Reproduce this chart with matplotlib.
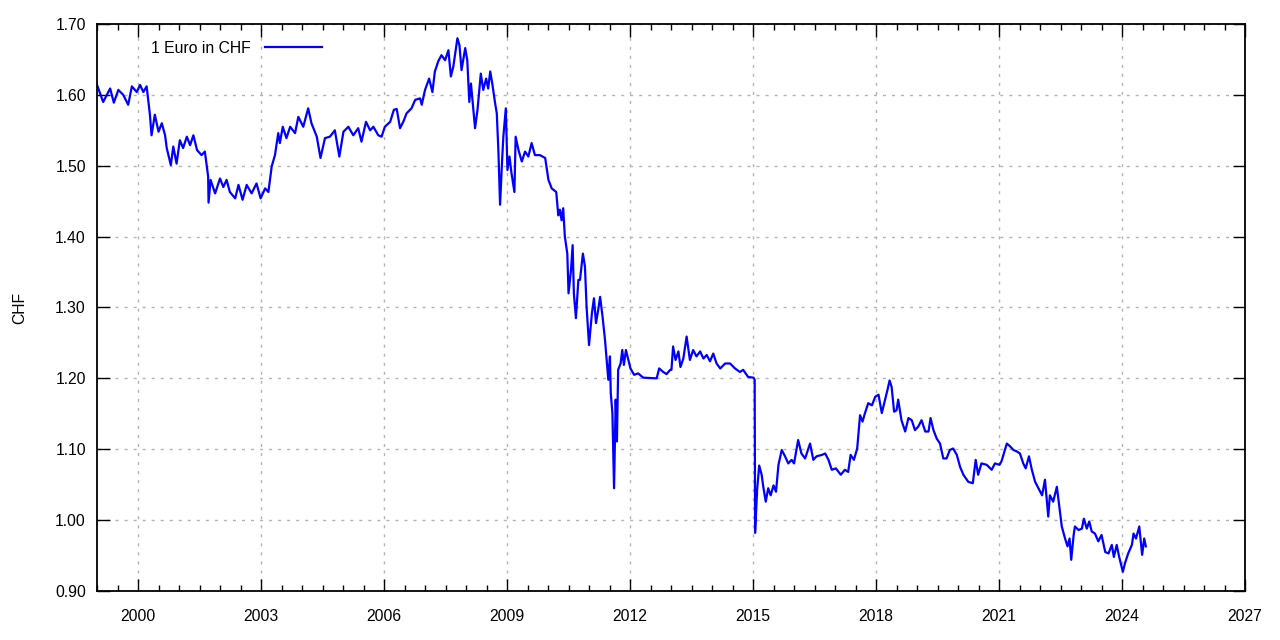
import matplotlib
matplotlib.use('Agg')
import matplotlib.pyplot as plt
from matplotlib.ticker import MultipleLocator, FormatStrFormatter

plt.rcParams['font.family'] = ['Liberation Sans', 'DejaVu Sans']

# EUR/CHF readings (decimal year, CHF per Euro)
years = [
    1999.00, 1999.15, 1999.32, 1999.41, 1999.52, 1999.64, 1999.76, 1999.85, 1999.97,
    2000.05, 2000.13, 2000.21, 2000.29, 2000.33, 2000.41, 2000.50, 2000.58, 2000.66,
    2000.70, 2000.80, 2000.86, 2000.94, 2001.02, 2001.10, 2001.19, 2001.27, 2001.35,
    2001.44, 2001.55, 2001.63, 2001.67, 2001.71, 2001.72, 2001.77, 2001.88, 2002.00,
    2002.08, 2002.16, 2002.24, 2002.37, 2002.45, 2002.55, 2002.65, 2002.77, 2002.89,
    2002.99, 2003.10, 2003.18, 2003.26, 2003.34, 2003.42, 2003.46, 2003.53, 2003.62,
    2003.71, 2003.83, 2003.91, 2004.03, 2004.15, 2004.23, 2004.36, 2004.45, 2004.56,
    2004.68, 2004.80, 2004.91, 2005.01, 2005.13, 2005.25, 2005.37, 2005.45, 2005.56,
    2005.66, 2005.74, 2005.86, 2005.94, 2006.02, 2006.15, 2006.24, 2006.31, 2006.39,
    2006.47, 2006.55, 2006.67, 2006.76, 2006.88, 2006.92, 2007.00, 2007.10, 2007.18,
    2007.24, 2007.32, 2007.40, 2007.49, 2007.57, 2007.63, 2007.69, 2007.79, 2007.84,
    2007.89, 2007.98, 2008.03, 2008.08, 2008.12, 2008.22, 2008.28, 2008.36, 2008.42,
    2008.49, 2008.54, 2008.59, 2008.64, 2008.71, 2008.75, 2008.79, 2008.83, 2008.88,
    2008.91, 2008.97, 2009.01, 2009.06, 2009.11, 2009.18, 2009.21, 2009.28, 2009.36,
    2009.44, 2009.52, 2009.60, 2009.68, 2009.80, 2009.93, 2010.01, 2010.09, 2010.20,
    2010.25, 2010.29, 2010.33, 2010.37, 2010.41, 2010.47, 2010.50, 2010.56, 2010.60,
    2010.63, 2010.68, 2010.74, 2010.78, 2010.85, 2010.90, 2010.94, 2011.00, 2011.07,
    2011.12, 2011.17, 2011.23, 2011.27, 2011.33, 2011.39, 2011.43, 2011.47, 2011.51,
    2011.53, 2011.57, 2011.61, 2011.65, 2011.68, 2011.71, 2011.77, 2011.81, 2011.85,
    2011.90, 2011.96, 2012.01, 2012.10, 2012.20, 2012.32, 2012.65, 2012.71, 2012.81,
    2012.89, 2012.98, 2013.01, 2013.05, 2013.11, 2013.18, 2013.23, 2013.30, 2013.38,
    2013.46, 2013.54, 2013.62, 2013.71, 2013.79, 2013.87, 2013.95, 2014.03, 2014.11,
    2014.20, 2014.32, 2014.44, 2014.56, 2014.68, 2014.76, 2014.88, 2015.01, 2015.04,
    2015.05, 2015.10, 2015.15, 2015.21, 2015.25, 2015.31, 2015.37, 2015.43, 2015.50,
    2015.56, 2015.62, 2015.70, 2015.78, 2015.86, 2015.94, 2016.00, 2016.10, 2016.18,
    2016.27, 2016.39, 2016.47, 2016.55, 2016.68, 2016.76, 2016.84, 2016.92, 2017.02,
    2017.14, 2017.24, 2017.32, 2017.38, 2017.46, 2017.54, 2017.61, 2017.67, 2017.73,
    2017.81, 2017.90, 2017.98, 2018.06, 2018.14, 2018.22, 2018.28, 2018.33, 2018.38,
    2018.44, 2018.50, 2018.54, 2018.62, 2018.71, 2018.79, 2018.87, 2018.95, 2019.03,
    2019.11, 2019.20, 2019.28, 2019.33, 2019.40, 2019.48, 2019.56, 2019.64, 2019.72,
    2019.80, 2019.88, 2019.97, 2020.05, 2020.13, 2020.25, 2020.36, 2020.43, 2020.49,
    2020.57, 2020.70, 2020.82, 2020.90, 2021.01, 2021.06, 2021.19, 2021.27, 2021.35,
    2021.43, 2021.51, 2021.59, 2021.65, 2021.73, 2021.80, 2021.88, 2021.96, 2022.05,
    2022.12, 2022.20, 2022.24, 2022.32, 2022.41, 2022.45, 2022.53, 2022.61, 2022.67,
    2022.72, 2022.76, 2022.82, 2022.85, 2022.94, 2023.02, 2023.07, 2023.14, 2023.20,
    2023.26, 2023.34, 2023.42, 2023.50, 2023.59, 2023.67, 2023.75, 2023.80, 2023.87,
    2023.93, 2024.02, 2024.07, 2024.15, 2024.24, 2024.28, 2024.34, 2024.42, 2024.49,
    2024.54, 2024.58,
]
chf = [
    1.614, 1.590, 1.609, 1.589, 1.607, 1.600, 1.586, 1.612, 1.604,
    1.614, 1.604, 1.612, 1.572, 1.543, 1.572, 1.548, 1.560, 1.543,
    1.525, 1.501, 1.527, 1.503, 1.536, 1.525, 1.541, 1.529, 1.543,
    1.522, 1.515, 1.520, 1.503, 1.485, 1.448, 1.480, 1.461, 1.482,
    1.470, 1.480, 1.463, 1.454, 1.473, 1.452, 1.473, 1.461, 1.475,
    1.454, 1.468, 1.463, 1.499, 1.515, 1.546, 1.532, 1.555, 1.539,
    1.555, 1.546, 1.569, 1.555, 1.581, 1.560, 1.541, 1.511, 1.539,
    1.541, 1.550, 1.513, 1.548, 1.555, 1.543, 1.553, 1.534, 1.562,
    1.550, 1.555, 1.543, 1.541, 1.555, 1.562, 1.579, 1.580, 1.553,
    1.562, 1.574, 1.581, 1.593, 1.595, 1.586, 1.607, 1.623, 1.604,
    1.633, 1.647, 1.656, 1.649, 1.663, 1.626, 1.640, 1.680, 1.670,
    1.635, 1.666, 1.649, 1.590, 1.616, 1.553, 1.579, 1.630, 1.607,
    1.623, 1.609, 1.633, 1.616, 1.588, 1.574, 1.520, 1.445, 1.508,
    1.541, 1.581, 1.494, 1.513, 1.489, 1.463, 1.541, 1.522, 1.506,
    1.520, 1.513, 1.532, 1.515, 1.515, 1.511, 1.480, 1.468, 1.463,
    1.430, 1.438, 1.423, 1.440, 1.400, 1.376, 1.320, 1.353, 1.388,
    1.320, 1.285, 1.339, 1.339, 1.376, 1.358, 1.301, 1.247, 1.292,
    1.313, 1.278, 1.299, 1.315, 1.287, 1.254, 1.226, 1.198, 1.231,
    1.179, 1.151, 1.045, 1.170, 1.111, 1.212, 1.221, 1.240, 1.219,
    1.240, 1.226, 1.214, 1.205, 1.207, 1.201, 1.200, 1.214, 1.209,
    1.206, 1.212, 1.212, 1.245, 1.226, 1.238, 1.216, 1.228, 1.259,
    1.226, 1.240, 1.231, 1.238, 1.228, 1.233, 1.224, 1.235, 1.221,
    1.214, 1.221, 1.221, 1.214, 1.209, 1.212, 1.202, 1.201, 1.198,
    0.982, 1.043, 1.077, 1.064, 1.047, 1.026, 1.045, 1.035, 1.049,
    1.040, 1.078, 1.099, 1.090, 1.080, 1.085, 1.080, 1.113, 1.094,
    1.087, 1.108, 1.085, 1.090, 1.092, 1.094, 1.085, 1.071, 1.073,
    1.064, 1.071, 1.068, 1.092, 1.085, 1.101, 1.148, 1.139, 1.151,
    1.165, 1.162, 1.174, 1.177, 1.151, 1.170, 1.184, 1.197, 1.188,
    1.153, 1.155, 1.170, 1.141, 1.125, 1.144, 1.141, 1.127, 1.132,
    1.141, 1.125, 1.125, 1.144, 1.127, 1.115, 1.108, 1.087, 1.087,
    1.099, 1.101, 1.092, 1.075, 1.064, 1.054, 1.052, 1.085, 1.064,
    1.080, 1.078, 1.071, 1.080, 1.078, 1.083, 1.108, 1.104, 1.099,
    1.097, 1.094, 1.080, 1.073, 1.090, 1.071, 1.054, 1.045, 1.035,
    1.057, 1.005, 1.035, 1.026, 1.047, 1.028, 0.991, 0.974, 0.963,
    0.974, 0.944, 0.979, 0.991, 0.986, 0.988, 1.002, 0.988, 0.998,
    0.984, 0.981, 0.970, 0.979, 0.955, 0.953, 0.965, 0.948, 0.965,
    0.948, 0.927, 0.939, 0.953, 0.965, 0.981, 0.974, 0.991, 0.951,
    0.974, 0.963,
]

fig = plt.figure(figsize=(12.8, 6.4), dpi=100)
ax = fig.add_axes([0.0758, 0.0766, 0.8969, 0.8859])

ax.plot(years, chf, color='#0000ff', lw=1.6, label='1 Euro in CHF')

ax.set_xlim(1999, 2027)
ax.set_ylim(0.90, 1.70)
ax.xaxis.set_major_locator(MultipleLocator(3))
ax.xaxis.set_minor_locator(MultipleLocator(0.5))
ax.yaxis.set_major_locator(MultipleLocator(0.1))
ax.yaxis.set_major_formatter(FormatStrFormatter('%.2f'))
ax.set_xticks(range(2000, 2028, 3))

ax.tick_params(which='both', direction='in', top=True, right=True,
               labelsize=11.3, width=1.0, colors='black')
ax.tick_params(which='major', length=9, pad=8)
ax.tick_params(axis='x', which='major', pad=13)
ax.tick_params(which='minor', length=4.5)
for s in ax.spines.values():
    s.set_linewidth(1.3)

ax.grid(True, which='major', color='#b4b4b4', linestyle=(0, (2.2, 4.3)), lw=1.0)

ax.set_ylabel('CHF', fontsize=11.3, labelpad=20)

ax.legend(loc='upper left', bbox_to_anchor=(0.035, 0.995), frameon=False,
          markerfirst=False, handlelength=3.6, handletextpad=0.9, fontsize=11.3)

fig.savefig('out.png', dpi=100)
